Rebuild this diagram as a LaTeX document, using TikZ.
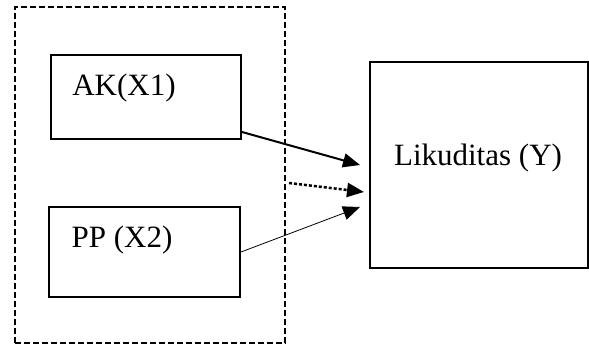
\documentclass[tikz,border=0pt]{standalone}
\usepackage{fontspec}
\setmainfont{Liberation Serif}
\usetikzlibrary{positioning,calc,arrows.meta}

\begin{document}
\begin{tikzpicture}[x=1pt, y=-1pt, font=\fontsize{31}{36}\selectfont,
    box/.style={draw, rectangle, line width=2pt, inner sep=0pt},
    link/.style={-{Triangle[length=17pt, width=14pt]}}]
    \useasboundingbox (0,0) rectangle (589,345);
    % Group of X
    \node [draw, rectangle, dash pattern=on 6pt off 3pt, line width=2pt, minimum width=270pt, minimum height=336pt] (grp) at (150,175) {};
    % AK
    \node [box, minimum width=190pt, minimum height=84pt] (ak) at (146,97) {};
    \node (aktext) at (124,88) {AK(X1)};
    % PP
    \node [box, minimum width=191pt, minimum height=90pt] (pp) at (144.5,252) {};
    \node (pptext) at (122,240) {PP (X2)};
    % Likuditas
    \node [box, minimum width=218pt, minimum height=206pt] (lik) at (479,165) {};
    \node (liktext) at (478,158) {Likuditas (Y)};

    \coordinate (t1) at (360,165);
    \coordinate (t2) at (364,192);
    \coordinate (t3) at (360,207);
    \draw [link, line width=2pt] ([yshift=8pt]ak.south east) -- (t1);
    \draw [link, line width=2.5pt, dash pattern=on 3pt off 2pt] ($(grp.east)+(3,8)$) -- (t2);
    \draw [link, line width=0.8pt] (pp.east) -- (t3);
\end{tikzpicture}
\end{document}
